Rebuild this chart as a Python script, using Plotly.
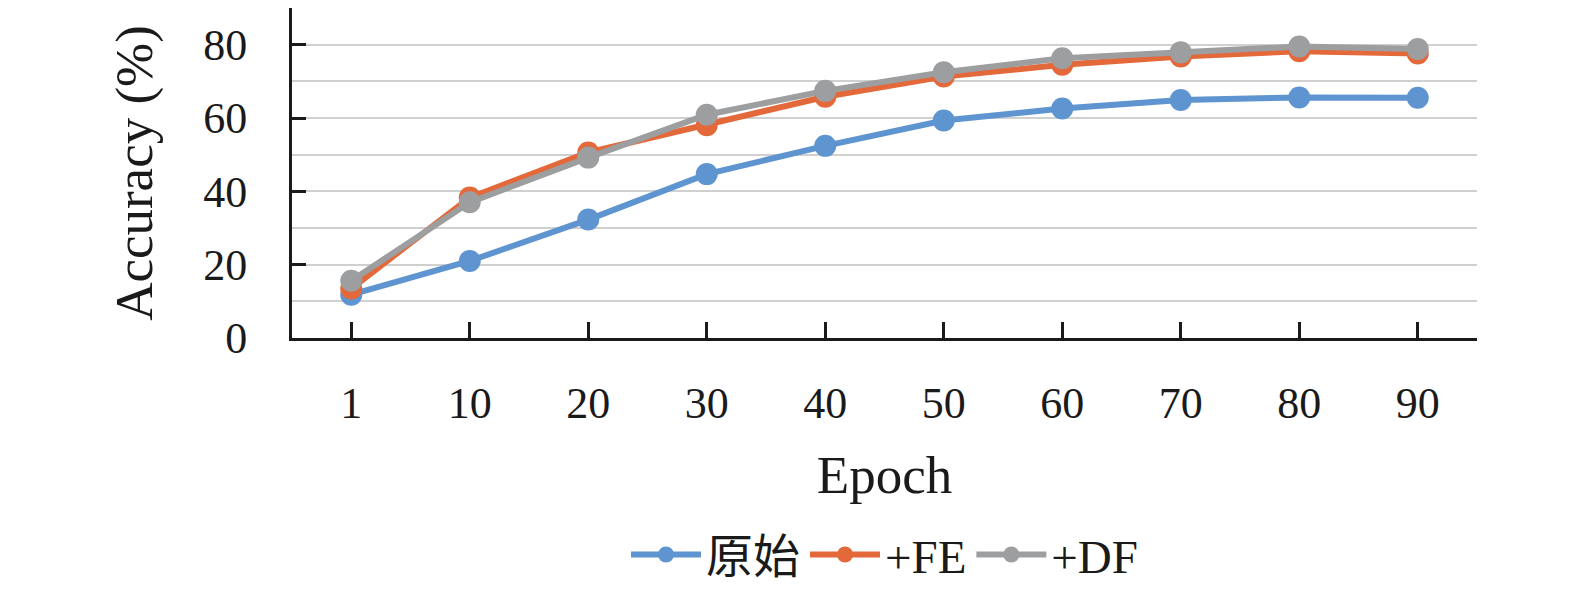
import plotly.graph_objects as go

epochs = ["1", "10", "20", "30", "40", "50", "60", "70", "80", "90"]
orig = [11.8, 21.0, 32.3, 44.7, 52.4, 59.3, 62.6, 64.9, 65.6, 65.5]
fe = [13.5, 38.3, 50.6, 58.0, 65.8, 71.3, 74.5, 76.8, 78.2, 77.6]
df = [15.6, 37.0, 49.2, 60.9, 67.4, 72.5, 76.3, 77.9, 79.5, 78.8]
names = ["原始", "+FE", "+DF"]
colors = ["#5E94CF", "#E4693A", "#9D9EA0"]
y_ticks = [0, 20, 40, 60, 80]

font_family = "Liberation Serif, Times New Roman, Noto Sans CJK SC, serif"

fig = go.Figure()
for name, vals, col in zip(names, [orig, fe, df], colors):
    fig.add_trace(go.Scatter(
        x=epochs, y=vals, name=name, mode="lines+markers",
        line=dict(color=col, width=6),
        marker=dict(color=col, size=22),
    ))

# page body has an 8px default margin, so the figure is sized to compensate
fig.update_layout(
    width=1567, height=585,
    margin=dict(l=284, r=98, t=0, b=255, autoexpand=False),
    plot_bgcolor="white", paper_bgcolor="white",
    font=dict(family=font_family, size=44, color="#1a1a1a"),
    showlegend=True,
    legend=dict(orientation="h", x=0.5, xanchor="center",
                yref="container", y=0.065, yanchor="middle",
                font=dict(size=47), itemwidth=70, traceorder="normal"),
)
fig.update_xaxes(
    type="category", range=[-0.5, 9.5], showline=True, linecolor="#1a1a1a", linewidth=3,
    ticks="inside", ticklen=16, tickwidth=3, tickcolor="#1a1a1a",
    showgrid=False, ticklabelstandoff=24, automargin=False,
    title=dict(text="Epoch", standoff=30),
)
fig.update_yaxes(
    range=[0, 90], showline=True, linecolor="#1a1a1a", linewidth=3,
    tickvals=y_ticks, ticks="inside", ticklen=14, tickwidth=3, tickcolor="#1a1a1a",
    showgrid=True, gridcolor="#D0D0D0", gridwidth=2,
    minor=dict(dtick=10, tick0=0, showgrid=True, gridcolor="#D0D0D0", gridwidth=2, ticks=""),
    zeroline=False, ticklabelstandoff=33, automargin=False,
    title=dict(text="Accuracy (%)", standoff=34),
)

fig.write_html("out.html")
